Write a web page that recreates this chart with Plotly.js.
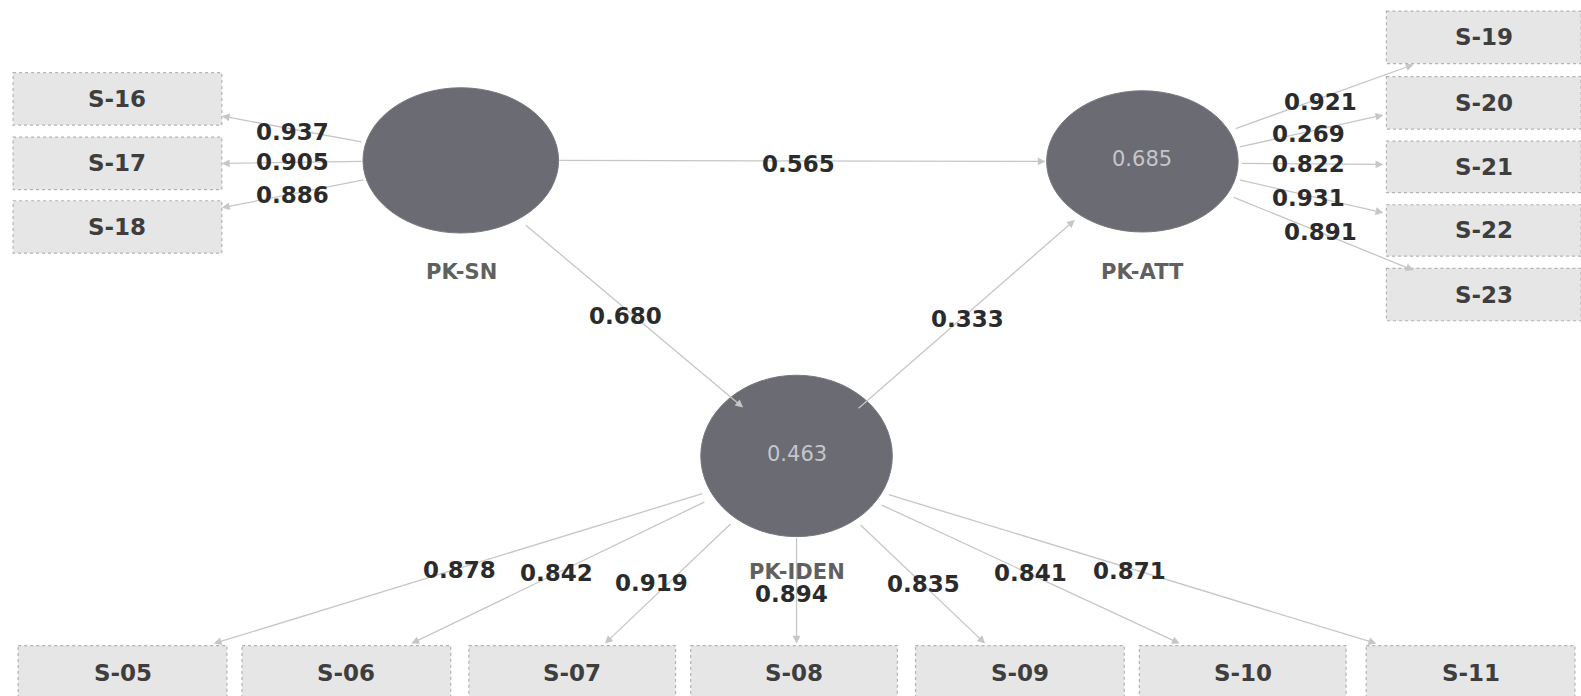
<!DOCTYPE html>
<html><head><meta charset="utf-8">
<script src="https://cdn.plot.ly/plotly-3.0.1.min.js"></script>
<style>html,body{margin:0;padding:0;background:#fff;}#chart{width:1581px;height:696px;}</style>
</head><body><div id="chart"></div>
<script>
// ---- data ----
const constructs = ['PK-SN', 'PK-ATT', 'PK-IDEN'];
const rSquared = [null, 0.685, 0.463];
const snItems = ['S-16', 'S-17', 'S-18'];
const snLoadings = [0.937, 0.905, 0.886];
const attItems = ['S-19', 'S-20', 'S-21', 'S-22', 'S-23'];
const attLoadings = [0.921, 0.269, 0.822, 0.931, 0.891];
const idenItems = ['S-05', 'S-06', 'S-07', 'S-08', 'S-09', 'S-10', 'S-11'];
const idenLoadings = [0.878, 0.842, 0.919, 0.894, 0.835, 0.841, 0.871];
const pathFrom = ['PK-SN', 'PK-SN', 'PK-IDEN'];
const pathTo = ['PK-ATT', 'PK-IDEN', 'PK-ATT'];
const pathCoefs = [0.565, 0.680, 0.333];

// ---- layout geometry (diagram coordinates) ----
const nodeGeo = {
  'PK-SN':   {cx: 457, cy: 159, rx: 97, ry: 72, lx: 458, ly: 270},
  'PK-ATT':  {cx: 1133, cy: 160, rx: 95, ry: 70, lx: 1133, ly: 270},
  'PK-IDEN': {cx: 790, cy: 452, rx: 95, ry: 80, lx: 790, ly: 567}
};
const boxGeo = {
  'S-16': [13, 72, 220, 124], 'S-17': [13, 136, 220, 188], 'S-18': [13, 199, 220, 251],
  'S-19': [1375, 11, 1568, 63], 'S-20': [1375, 76, 1568, 128], 'S-21': [1375, 140, 1568, 191],
  'S-22': [1375, 203, 1568, 254], 'S-23': [1375, 266, 1568, 318],
  'S-05': [18, 640, 225, 694], 'S-06': [240, 640, 447, 694], 'S-07': [465, 640, 670, 694],
  'S-08': [685, 640, 890, 694], 'S-09': [908, 640, 1115, 694], 'S-10': [1130, 640, 1335, 694],
  'S-11': [1355, 640, 1562, 694]
};
// arrow [fromX, fromY, toX, toY]
const loadArrow = {
  'S-16': [360, 141, 220, 115], 'S-17': [360, 160, 220, 162], 'S-18': [362, 178, 220, 206],
  'S-19': [1224, 128, 1402, 64], 'S-20': [1228, 146, 1372, 114], 'S-21': [1230, 162, 1372, 163],
  'S-22': [1228, 178, 1372, 211], 'S-23': [1222, 195, 1402, 268],
  'S-05': [698, 489, 212, 638], 'S-06': [700, 497, 408, 638], 'S-07': [726, 518, 600, 638],
  'S-08': [790, 532, 790, 638], 'S-09': [852, 519, 977, 638], 'S-10': [873, 500, 1170, 638],
  'S-11': [880, 490, 1365, 638]
};
const loadLabel = {
  'S-16': [290, 131], 'S-17': [290, 161], 'S-18': [290, 193],
  'S-19': [1310, 101], 'S-20': [1298, 133], 'S-21': [1298, 163], 'S-22': [1298, 196], 'S-23': [1310, 230],
  'S-05': [456, 565], 'S-06': [552, 568], 'S-07': [646, 578], 'S-08': [785, 589],
  'S-09': [916, 579], 'S-10': [1022, 568], 'S-11': [1120, 566]
};
const pathGeo = [
  {a: [553, 159, 1037, 160], l: [792, 163]},
  {a: [520, 222, 737, 404], l: [620, 313]},
  {a: [850, 406, 1066, 218], l: [960, 316]}
];

const W = 1568, H = 690;
const shapes = [], annotations = [];
const lineCol = '#c6c6c6';
const numFont = {family: 'DejaVu Sans', size: 23, color: '#2b2b2b', weight: 'bold'};

function addArrow(g) {
  annotations.push({x: g[2], y: g[3], ax: g[0], ay: g[1], xref: 'x', yref: 'y', axref: 'x', ayref: 'y',
    text: '', showarrow: true, arrowhead: 2, arrowsize: 1.2, arrowwidth: 1.3, arrowcolor: lineCol, standoff: 0});
}
function addBox(name) {
  const b = boxGeo[name];
  shapes.push({type: 'rect', xref: 'x', yref: 'y', x0: b[0], y0: b[1], x1: b[2], y1: b[3],
    fillcolor: '#e6e6e6', line: {color: '#b3b3b3', width: 1.2, dash: 'dot'}, layer: 'below'});
  annotations.push({x: (b[0] + b[2]) / 2, y: (b[1] + b[3]) / 2, xref: 'x', yref: 'y', text: name, showarrow: false,
    font: {family: 'DejaVu Sans', size: 23, color: '#3e3e3e', weight: 'bold'}});
}
function addLoading(items, loads) {
  items.forEach((n, i) => {
    addBox(n);
    addArrow(loadArrow[n]);
    const p = loadLabel[n];
    annotations.push({x: p[0], y: p[1], xref: 'x', yref: 'y', text: loads[i].toFixed(3), showarrow: false, font: numFont});
  });
}
addLoading(snItems, snLoadings);
addLoading(attItems, attLoadings);
addLoading(idenItems, idenLoadings);

pathCoefs.forEach((c, i) => {
  addArrow(pathGeo[i].a);
  annotations.push({x: pathGeo[i].l[0], y: pathGeo[i].l[1], xref: 'x', yref: 'y', text: c.toFixed(3), showarrow: false, font: numFont});
});

constructs.forEach((c, i) => {
  const g = nodeGeo[c];
  shapes.push({type: 'circle', xref: 'x', yref: 'y', x0: g.cx - g.rx, x1: g.cx + g.rx, y0: g.cy - g.ry, y1: g.cy + g.ry,
    fillcolor: '#6a6b73', line: {color: '#777880', width: 1}, layer: 'above'});
  if (rSquared[i] !== null) {
    annotations.push({x: g.cx, y: g.cy - 2, xref: 'x', yref: 'y', text: rSquared[i].toFixed(3), showarrow: false,
      font: {family: 'DejaVu Sans', size: 21, color: '#c6c6ca'}});
  }
  annotations.push({x: g.lx, y: g.ly, xref: 'x', yref: 'y', text: c, showarrow: false,
    font: {family: 'DejaVu Sans', size: 21, color: '#606060', weight: 'bold'}});
});

const layout = {
  width: 1581, height: 696,
  margin: {l: 0, r: 0, t: 0, b: 0},
  paper_bgcolor: '#ffffff', plot_bgcolor: '#ffffff',
  xaxis: {range: [0, W], visible: false, fixedrange: true},
  yaxis: {range: [H, 0], visible: false, fixedrange: true},
  showlegend: false,
  shapes: shapes,
  annotations: annotations
};
Plotly.newPlot('chart', [{x: [], y: [], type: 'scatter', mode: 'markers', hoverinfo: 'skip'}], layout, {displayModeBar: false, staticPlot: true});
</script>
</body></html>
